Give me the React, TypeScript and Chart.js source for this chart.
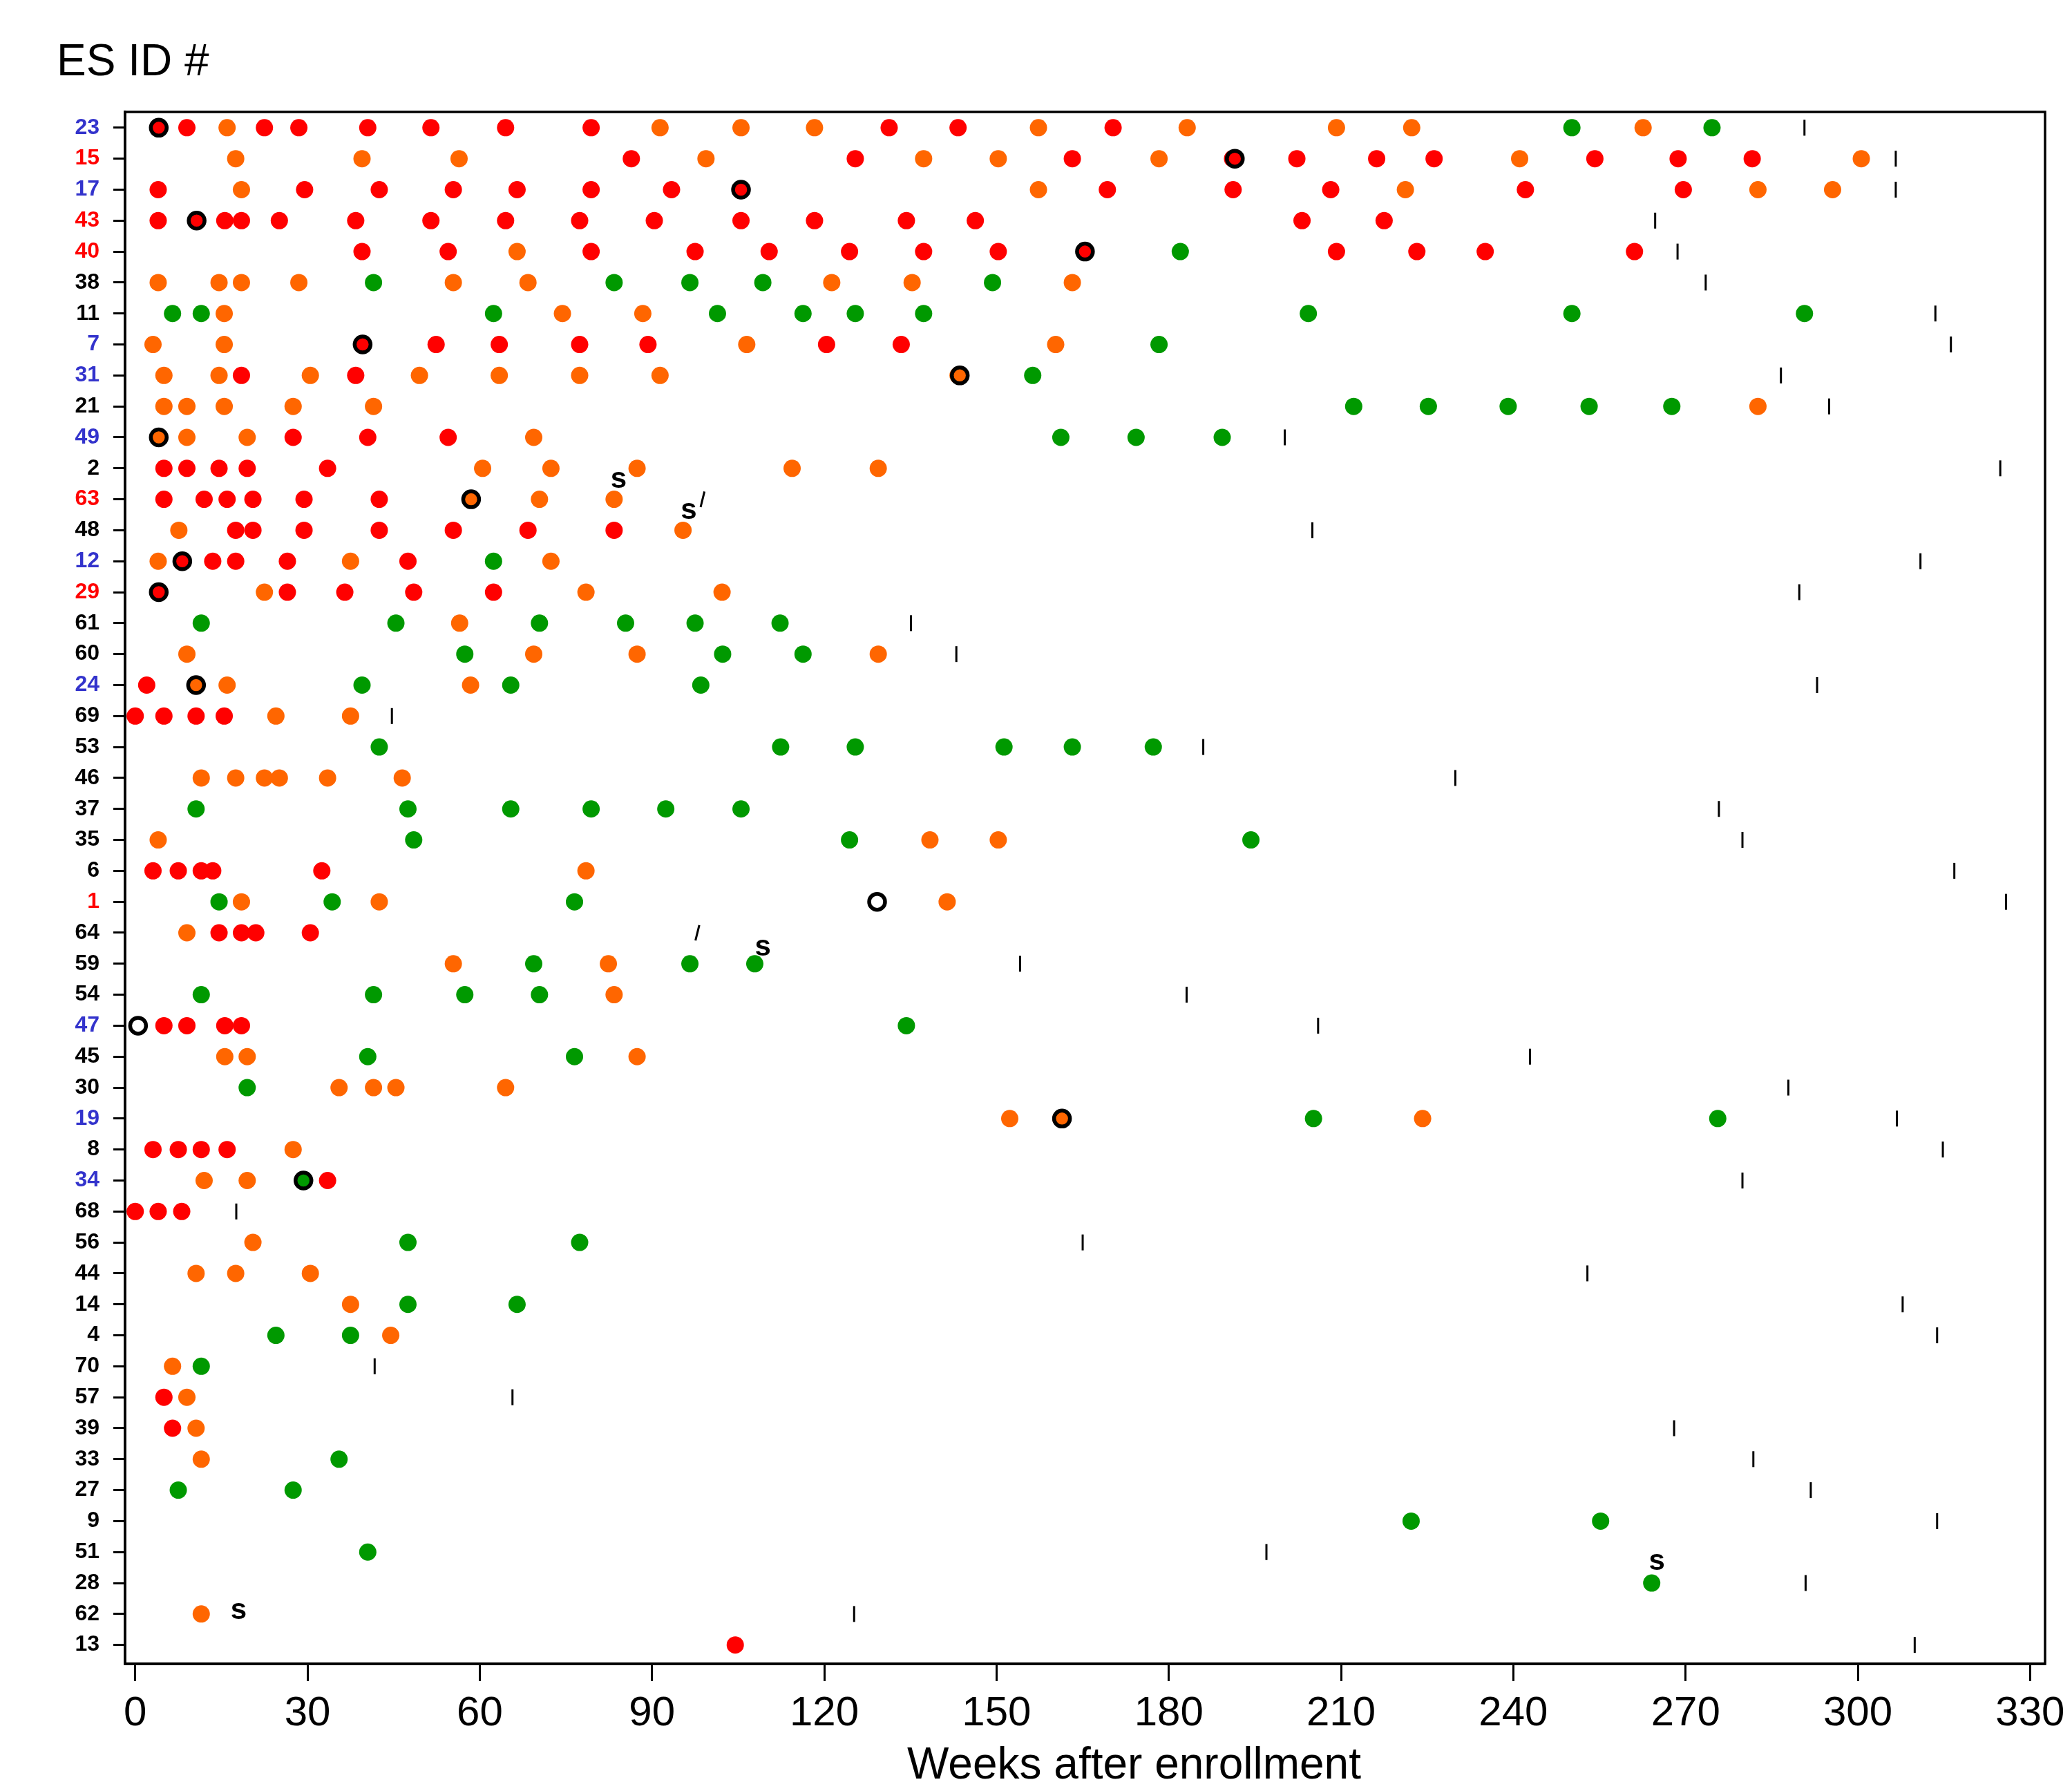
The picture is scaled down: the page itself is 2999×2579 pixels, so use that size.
import React, { useEffect, useRef } from 'react';
import { Chart, registerables } from 'chart.js';

Chart.register(...registerables);

// ---------- DATA ----------
const ids = ['23','15','17','43','40','38','11','7','31','21','49','2','63','48','12','29','61','60','24','69','53','46','37','35','6','1','64','59','54','47','45','30','19','8','34','68','56','44','14','4','70','57','39','33','27','9','51','28','62','13'];
const blueIds = ['23','17','7','31','49','12','24','47','19','34'];
const redIds = ['15','43','40','63','29','1'];
const xTickValues = [0, 30, 60, 90, 120, 150, 180, 210, 240, 270, 300, 330];

const redWeeks: Record<string, number[]> = {
  '23': [4.1, 9.0, 22.5, 28.5, 40.5, 51.5, 64.5, 79.4, 131.3, 143.3, 170.3],
  '15': [86.4, 125.4, 163.2, 191.1, 202.3, 216.2, 226.2, 254.2, 268.7, 281.6],
  '17': [4.0, 29.5, 42.5, 55.4, 66.5, 79.4, 93.4, 105.5, 169.3, 191.2, 208.2, 242.1, 269.6],
  '43': [4.0, 10.7, 15.6, 18.5, 25.1, 38.4, 51.5, 64.5, 77.4, 90.4, 105.5, 118.3, 134.3, 146.3, 203.2, 217.5],
  '40': [39.5, 54.5, 79.4, 97.5, 110.4, 124.4, 137.3, 150.3, 165.4, 209.2, 223.2, 235.1, 261.1],
  '7': [39.6, 52.4, 63.4, 77.4, 89.3, 120.4, 133.4],
  '31': [18.5, 38.4],
  '49': [27.5, 40.5, 54.5],
  '2': [5.0, 9.0, 14.6, 19.5, 33.5],
  '63': [5.0, 12.0, 16.0, 20.5, 29.4, 42.5],
  '48': [17.5, 20.5, 29.4, 42.5, 55.4, 68.4, 83.4],
  '12': [8.2, 13.5, 17.5, 26.5, 47.5],
  '29': [4.1, 26.5, 36.5, 48.5, 62.4],
  '24': [2.0],
  '69': [0.0, 5.0, 10.6, 15.5],
  '6': [3.1, 7.5, 11.5, 13.5, 32.5],
  '64': [14.6, 18.5, 21.0, 30.5],
  '47': [5.0, 9.0, 15.6, 18.5],
  '8': [3.1, 7.5, 11.5, 16.0],
  '34': [33.5],
  '68': [0.0, 4.0, 8.1],
  '57': [5.0],
  '39': [6.5],
  '13': [104.5],
};

const orangeWeeks: Record<string, number[]> = {
  '23': [16.0, 91.4, 105.5, 118.3, 157.3, 183.2, 209.2, 222.3, 262.6],
  '15': [17.5, 39.5, 56.4, 99.4, 137.3, 150.3, 178.3, 241.1, 300.6],
  '17': [18.5, 157.3, 221.2, 282.6, 295.6],
  '40': [66.5],
  '38': [4.0, 14.6, 18.5, 28.5, 55.4, 68.4, 121.3, 135.3, 163.2],
  '11': [15.5, 74.4, 88.4],
  '7': [3.1, 15.5, 106.5, 160.3],
  '31': [5.0, 14.6, 30.5, 49.5, 63.4, 77.4, 91.4, 143.3],
  '21': [5.0, 9.0, 15.5, 27.5, 41.5, 282.6],
  '49': [4.1, 9.0, 19.5, 69.4],
  '2': [60.5, 72.4, 87.4, 114.4, 129.4],
  '63': [58.5, 70.4, 83.4],
  '48': [7.6, 95.4],
  '12': [4.0, 37.5, 72.4],
  '29': [22.5, 78.5, 102.2],
  '61': [56.5],
  '60': [9.0, 69.4, 87.4, 129.4],
  '24': [10.6, 16.0, 58.4],
  '69': [24.5, 37.5],
  '46': [11.5, 17.5, 22.5, 25.1, 33.5, 46.5],
  '35': [4.0, 138.4, 150.3],
  '6': [78.5],
  '1': [18.5, 42.5, 141.4],
  '64': [9.0],
  '59': [55.4, 82.4],
  '54': [83.4],
  '45': [15.6, 19.5, 87.4],
  '30': [35.5, 41.5, 45.4, 64.5],
  '19': [152.3, 161.2, 224.2],
  '8': [27.5],
  '34': [12.0, 19.5],
  '56': [20.5],
  '44': [10.6, 17.5, 30.5],
  '14': [37.5],
  '4': [44.5],
  '70': [6.5],
  '57': [9.0],
  '39': [10.6],
  '33': [11.5],
  '62': [11.5],
};

const greenWeeks: Record<string, number[]> = {
  '23': [250.2, 274.6],
  '40': [182.0],
  '38': [41.5, 83.4, 96.6, 109.3, 149.3],
  '11': [6.5, 11.5, 62.4, 101.4, 116.3, 125.4, 137.3, 204.3, 250.2, 290.7],
  '7': [178.3],
  '31': [156.3],
  '21': [212.2, 225.2, 239.1, 253.2, 267.6],
  '49': [161.2, 174.3, 189.3],
  '12': [62.4],
  '61': [11.5, 45.4, 70.4, 85.4, 97.5, 112.3],
  '60': [57.4, 102.3, 116.3],
  '24': [39.5, 65.4, 98.5],
  '53': [42.5, 112.4, 125.4, 151.3, 163.2, 177.3],
  '37': [10.6, 47.5, 65.4, 79.4, 92.4, 105.5],
  '35': [48.5, 124.4, 194.3],
  '1': [14.6, 34.3, 76.5],
  '59': [69.4, 96.6, 107.9],
  '54': [11.5, 41.5, 57.4, 70.4],
  '47': [134.3],
  '45': [40.5, 76.5],
  '30': [19.5],
  '19': [205.2, 275.6],
  '34': [29.3],
  '56': [47.5, 77.4],
  '14': [47.5, 66.5],
  '4': [24.5, 37.5],
  '70': [11.5],
  '33': [35.5],
  '27': [7.5, 27.5],
  '9': [222.2, 255.2],
  '51': [40.5],
  '28': [264.1],
};

const circledWeeks: Record<string, number[]> = {
  '23': [4.1], '15': [191.5], '17': [105.5], '43': [10.7], '40': [165.4],
  '7': [39.6], '31': [143.6], '49': [4.1], '63': [58.5], '12': [8.2],
  '29': [4.1], '24': [10.6], '1': [129.2], '47': [0.5], '19': [161.4], '34': [29.3],
};

const censorWeeks: Record<string, number> = {
  '23': 290.7, '15': 306.6, '17': 306.6, '43': 264.7, '40': 268.6, '38': 273.5, '11': 313.5,
  '7': 316.2, '31': 286.6, '21': 295.0, '49': 200.2, '2': 324.8, '63': 98.8, '48': 205.0,
  '12': 310.9, '29': 289.8, '61': 135.1, '60': 143.0, '24': 292.9, '69': 44.7, '53': 186.0,
  '46': 229.9, '37': 275.8, '35': 279.9, '6': 316.8, '1': 325.8, '64': 97.9, '59': 154.1,
  '54': 183.1, '47': 206.0, '45': 242.9, '30': 287.9, '19': 306.8, '8': 314.8, '34': 279.9,
  '68': 17.6, '56': 165.0, '44': 252.9, '14': 307.8, '4': 313.8, '70': 41.7, '57': 65.7,
  '39': 268.0, '33': 281.8, '27': 291.8, '9': 313.8, '51': 197.0, '28': 290.9, '62': 125.2,
  '13': 309.9,
};

const sNoteIds = ['63', '48', '59', '28', '62'];
const sNoteWeeks = [84.2, 96.4, 109.3, 265.0, 18.0];
const sNoteLift = [0.53, 0.53, 0.43, 0.6, 0];

const tiltedCensorIds = ['63', '64'];

// ---------- STYLE ----------
const FONT = '"Liberation Sans", Arial, Helvetica, sans-serif';
const RED = '#ff0000';
const ORANGE = '#ff6600';
const GREEN = '#009900';
const BLUE_LABEL = '#3333cc';

function toPoints(map: Record<string, number[]>) {
  const out: { x: number; y: number }[] = [];
  ids.forEach((id, i) => {
    (map[id] || []).forEach((w) => out.push({ x: w, y: i }));
  });
  return out;
}

function labelColor(id: string) {
  if (blueIds.includes(id)) return BLUE_LABEL;
  if (redIds.includes(id)) return RED;
  return '#000000';
}

const decorPlugin = {
  id: 'decor',
  afterDatasetsDraw(chart: any) {
    const { ctx, chartArea: a, scales } = chart;
    const x = scales.x;
    const y = scales.y;
    ctx.save();
    ctx.strokeStyle = '#000';
    ctx.lineWidth = 3.5;
    ctx.strokeRect(a.left, a.top, a.right - a.left, a.bottom - a.top);

    ctx.fillStyle = '#000';
    ctx.font = `bold 42px ${FONT}`;
    ctx.textAlign = 'center';
    ctx.textBaseline = 'middle';
    sNoteIds.forEach((id, k) => {
      const i = ids.indexOf(id);
      ctx.fillText('s', x.getPixelForValue(sNoteWeeks[k]), y.getPixelForValue(i - sNoteLift[k]) - 4);
    });

    ctx.font = `64px ${FONT}`;
    ctx.textBaseline = 'alphabetic';
    ctx.textAlign = 'left';
    ctx.fillText('ES ID #', 82, 109);
    ctx.textAlign = 'center';
    ctx.fillText('Weeks after enrollment', (a.left + a.right) / 2 + 71, 2574);
    ctx.restore();
  },
};

export default function App() {
  const ref = useRef<HTMLCanvasElement | null>(null);

  useEffect(() => {
    if (!ref.current) return;
    const censorPts = ids.map((id, i) => ({ x: censorWeeks[id], y: i }));
    const chart = new Chart(ref.current, {
      type: 'scatter',
      data: {
        datasets: [
          {
            label: 'circled',
            data: toPoints(circledWeeks),
            pointStyle: 'circle',
            pointRadius: 11.5,
            pointBorderWidth: 5.5,
            pointBorderColor: '#000',
            pointBackgroundColor: 'rgba(0,0,0,0)',
            order: 1,
          } as any,
          {
            label: 'censor',
            data: censorPts,
            pointStyle: 'line',
            pointRadius: 11.5,
            pointBorderWidth: 3,
            pointBorderColor: '#000',
            pointRotation: (c: any) => (c.raw && tiltedCensorIds.includes(ids[c.raw.y]) ? 104 : 90),
            order: 1,
          } as any,
          {
            label: 'green',
            data: toPoints(greenWeeks),
            pointRadius: 12.5,
            pointBorderWidth: 0,
            pointBackgroundColor: GREEN,
            pointBorderColor: GREEN,
            order: 2,
          },
          {
            label: 'orange',
            data: toPoints(orangeWeeks),
            pointRadius: 12.5,
            pointBorderWidth: 0,
            pointBackgroundColor: ORANGE,
            pointBorderColor: ORANGE,
            order: 2,
          },
          {
            label: 'red',
            data: toPoints(redWeeks),
            pointRadius: 12.5,
            pointBorderWidth: 0,
            pointBackgroundColor: RED,
            pointBorderColor: RED,
            order: 2,
          },
        ],
      },
      options: {
        responsive: false,
        animation: false,
        devicePixelRatio: 1,
        clip: false as any,
        layout: { padding: { top: 162, right: 39, bottom: 0, left: 0 } },
        plugins: {
          legend: { display: false },
          tooltip: { enabled: false },
        },
        scales: {
          x: {
            type: 'linear',
            min: -1.77,
            max: 332.6,
            afterBuildTicks: (scale: any) => {
              scale.ticks = xTickValues.map((v) => ({ value: v }));
            },
            afterFit: (scale: any) => {
              scale.height = 171;
              scale.paddingLeft = 0;
              scale.paddingRight = 0;
            },
            ticks: {
              color: '#000',
              font: { family: FONT, size: 60 },
              padding: 11,
              autoSkip: false,
              maxRotation: 0,
              callback: (v: any) => String(v),
            },
            grid: {
              drawOnChartArea: false,
              drawTicks: true,
              tickLength: 25,
              tickWidth: 3,
              tickColor: '#000',
            },
            border: { display: true, color: '#000', width: 3.5 },
          },
          y: {
            type: 'linear',
            reverse: true,
            min: -0.51,
            max: 49.61,
            afterBuildTicks: (scale: any) => {
              scale.ticks = ids.map((_, i) => ({ value: i }));
            },
            afterFit: (scale: any) => {
              scale.width = 181;
              scale.paddingTop = 0;
              scale.paddingBottom = 0;
            },
            ticks: {
              autoSkip: false,
              padding: 20,
              font: { family: FONT, size: 32, weight: 'bold' },
              color: (c: any) => labelColor(ids[c.tick ? c.tick.value : c.index] ?? ''),
              callback: (v: any) => ids[v] ?? '',
            },
            grid: {
              drawOnChartArea: false,
              drawTicks: true,
              tickLength: 17,
              tickWidth: 3,
              tickColor: '#000',
            },
            border: { display: true, color: '#000', width: 3.5 },
          },
        },
      },
      plugins: [decorPlugin],
    });
    return () => chart.destroy();
  }, []);

  return (
    <div style={{ position: 'absolute', left: 0, top: 0, width: 2999, height: 2579, background: '#fff' }}>
      <canvas ref={ref} width={2999} height={2579} style={{ width: '2999px', height: '2579px', display: 'block' }} />
    </div>
  );
}
